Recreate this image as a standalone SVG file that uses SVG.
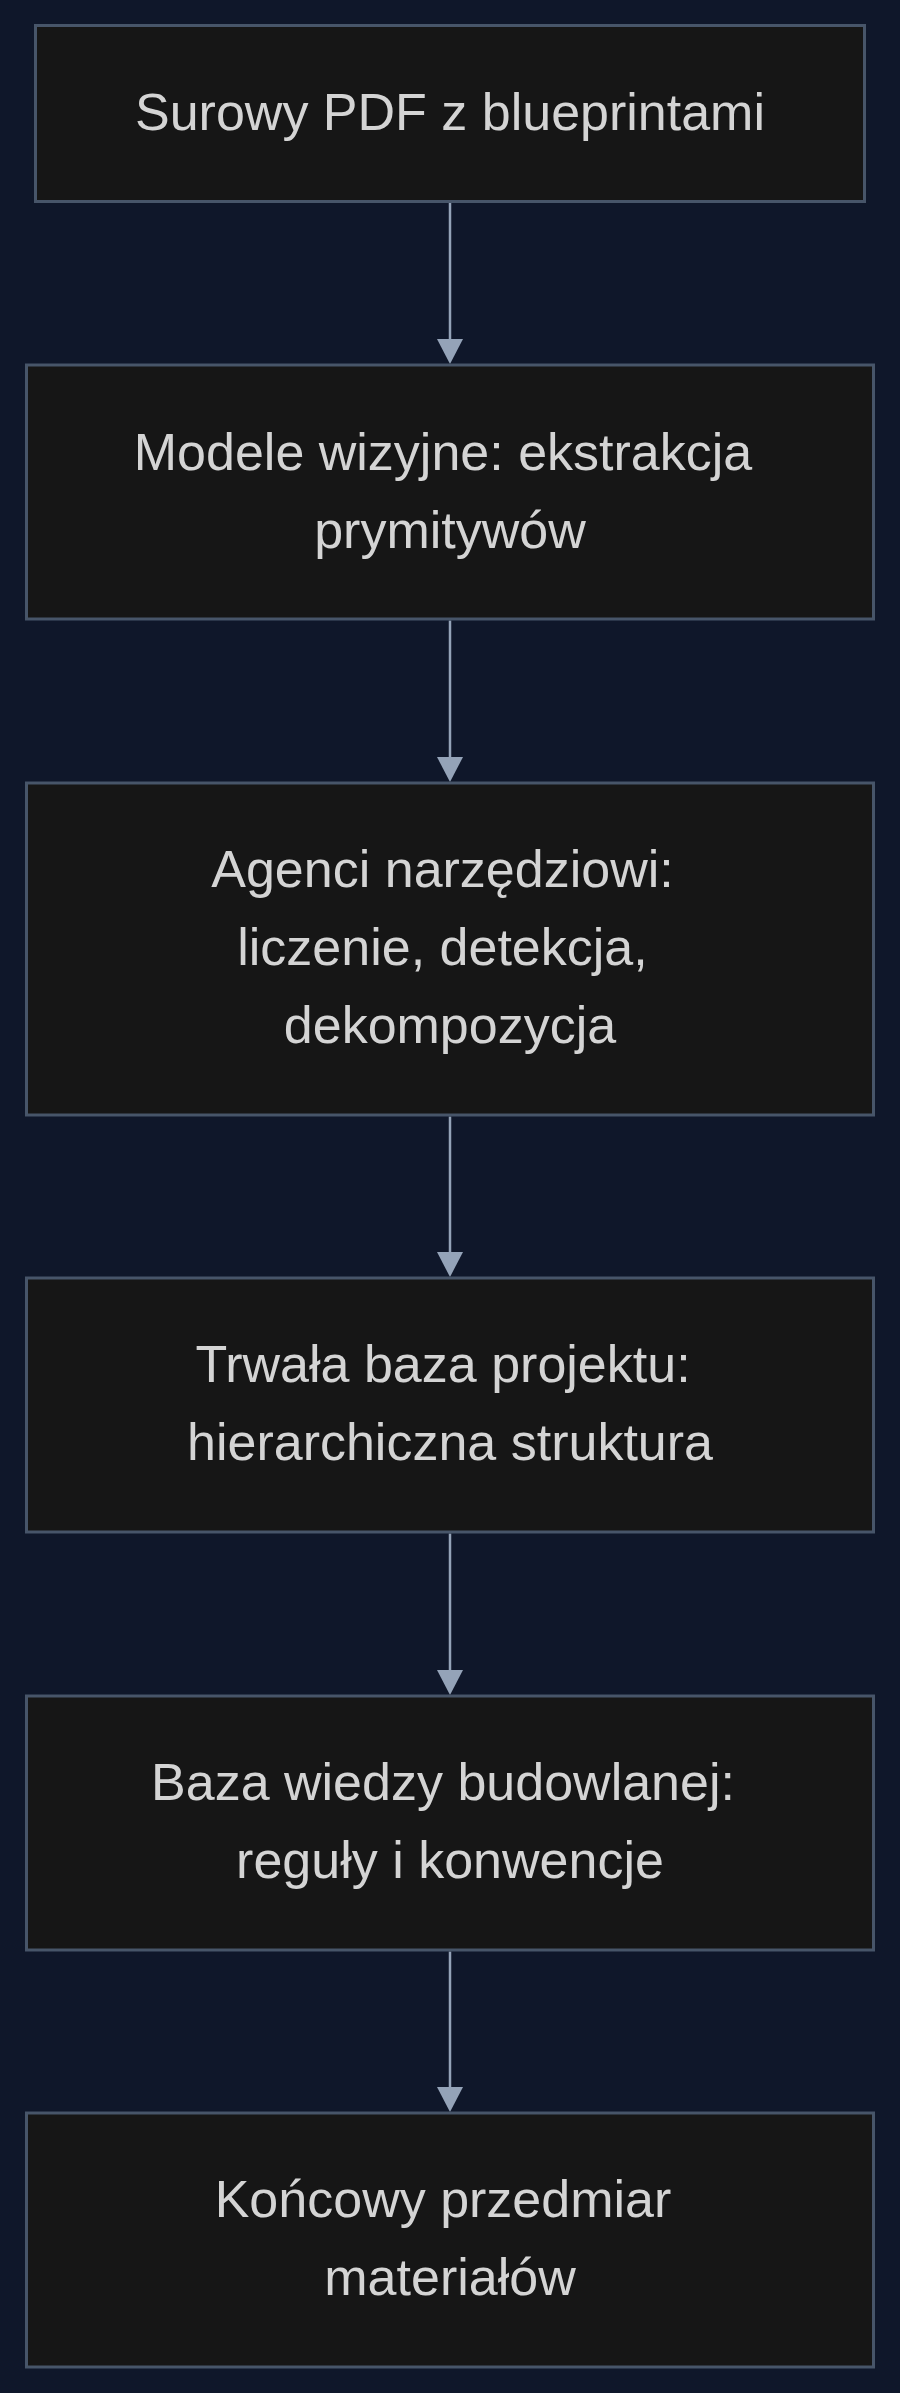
<svg xmlns="http://www.w3.org/2000/svg" width="900" height="2393" viewBox="0 0 900 2393">
  <style>
    .node rect { fill: #161616; stroke: #475569; stroke-width: 3; }
    .node text { font-family: "Liberation Sans", Arial, sans-serif; font-size: 52px; fill: #d4d4d4; text-anchor: middle; }
    .edge { stroke: #94a3b8; stroke-width: 2.5; fill: none; marker-end: url(#arrow); }
  </style>
  <defs>
    <marker id="arrow" markerUnits="userSpaceOnUse" markerWidth="26" markerHeight="26" refX="2" refY="13" orient="auto" viewBox="0 0 26 26">
      <path d="M0,0 L25,13 L0,26 Z" fill="#94a3b8"/>
    </marker>
  </defs>
  <rect x="0" y="0" width="900" height="2393" fill="#0f172a"/>

  <g id="connectors">
    <path class="edge" d="M450,203 L450,341"/>
    <path class="edge" d="M450,620.5 L450,759"/>
    <path class="edge" d="M450,1116.5 L450,1254"/>
    <path class="edge" d="M450,1533.5 L450,1672"/>
    <path class="edge" d="M450,1951.5 L450,2089"/>
  </g>

  <g id="node1" class="node">
    <rect x="35.5" y="25.5" width="829" height="176"/>
    <text x="450" y="130">Surowy PDF z blueprintami</text>
  </g>
  <g id="node2" class="node">
    <rect x="26.5" y="365" width="847" height="254"/>
    <text x="443" y="469.5">Modele wizyjne: ekstrakcja</text>
    <text x="450" y="547.5">prymitywów</text>
  </g>
  <g id="node3" class="node">
    <rect x="26.5" y="783" width="847" height="332"/>
    <text x="442.5" y="887">Agenci narzędziowi:</text>
    <text x="442.5" y="965">liczenie, detekcja,</text>
    <text x="450" y="1043">dekompozycja</text>
  </g>
  <g id="node4" class="node">
    <rect x="26.5" y="1278" width="847" height="254"/>
    <text x="443" y="1382">Trwała baza projektu:</text>
    <text x="450" y="1460">hierarchiczna struktura</text>
  </g>
  <g id="node5" class="node">
    <rect x="26.5" y="1696" width="847" height="254"/>
    <text x="443" y="1800">Baza wiedzy budowlanej:</text>
    <text x="450" y="1878">reguły i konwencje</text>
  </g>
  <g id="node6" class="node">
    <rect x="26.5" y="2113" width="847" height="254"/>
    <text x="443" y="2217">Końcowy przedmiar</text>
    <text x="450" y="2295">materiałów</text>
  </g>
</svg>
